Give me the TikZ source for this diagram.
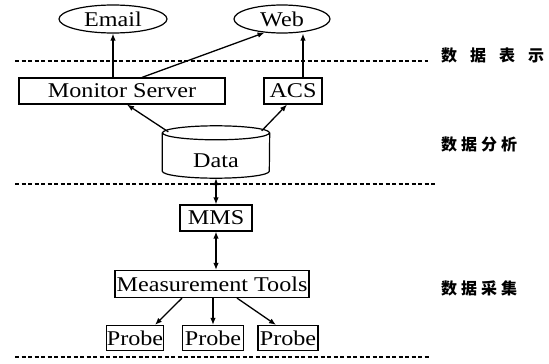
\documentclass[tikz,border=0pt]{standalone}
\usepackage{fontspec}
\setmainfont{Liberation Serif}[FakeStretch=1.15]
\newfontfamily\cjk{Noto Sans CJK SC}
\usetikzlibrary{shapes.geometric,arrows.meta,calc}
\begin{document}
\begin{tikzpicture}[x=1pt,y=-1pt,
  txt/.style={font=\fontsize{21}{23}\selectfont},
  box/.style={draw, line width=1.2pt, minimum height=26pt, inner sep=0pt, txt},
  oval/.style={ellipse, draw, line width=1.2pt, inner sep=0pt, txt},
  arr/.style={-{Latex[length=7pt,width=5.5pt]}, line width=1.3pt},
  darr/.style={{Latex[length=7pt,width=5.5pt]}-{Latex[length=7pt,width=5.5pt]}, line width=1.3pt},
  sep/.style={dash pattern=on 4pt off 2.5pt, line width=1.2pt},
  cyl/.style={line width=1.2pt},
  lab/.style={font=\cjk\bfseries\fontsize{16}{16}\selectfont, anchor=west, inner sep=0pt}]
\useasboundingbox (0,0) rectangle (549,364);
% nodes
\node[oval, minimum width=108pt, minimum height=28pt] (email) at (113,19) {Email};
\node[oval, minimum width=96pt, minimum height=28pt] (web) at (282,19) {Web};
\node[box, minimum width=206pt] (ms) at (122,91) {Monitor Server};
\node[box, minimum width=58pt] (acs) at (293,91) {ACS};
\node[minimum width=107pt, minimum height=52pt, inner sep=0pt] (data) at (216,152) {};
\node[txt] (datatxt) at (216,161) {Data};
\node[box, minimum width=72pt] (mms) at (216,218) {MMS};
\node[box, minimum width=194pt, minimum height=27pt] (mt) at (212,284) {Measurement Tools};
\node[box, minimum width=57pt, minimum height=25pt] (p1) at (135,338) {Probe};
\node[box, minimum width=61pt, minimum height=25pt] (p2) at (213,338) {Probe};
\node[box, minimum width=60pt, minimum height=25pt] (p3) at (288,338) {Probe};
% cylinder outline of the Data node
\draw[cyl] ($(data.north)+(0,7)$) ellipse [x radius=53.5pt, y radius=7pt];
\draw[cyl] ($(data.north west)+(0,7)$) -- ($(data.south west)+(0,-7)$)
  arc[start angle=180, end angle=360, x radius=53.5pt, y radius=7pt]
  -- ($(data.north east)+(0,7)$);
% labels
\node[lab] (l1) at (441,55) {数\hspace{13pt}据\hspace{13pt}表\hspace{13pt}示};
\node[lab] (l2) at (441,144) {数\hspace{4pt}据\hspace{4pt}分\hspace{4pt}析};
\node[lab] (l3) at (441,288) {数\hspace{4pt}据\hspace{4pt}采\hspace{4pt}集};
% separators
\draw[sep] (15,61) -- (428,61);
\draw[sep] (15,184) -- (437,184);
\draw[sep] (15,357) -- (430,357);
% connectors
\draw[arr] (ms.north -| email.south) -- (email.south);
\draw[arr] ($(ms.north)+(20,0)$) -- (web.218);
\draw[arr] (acs.north -| 303,0) -- (web.south -| 303,0);
\draw[arr] ($(data.north west)+(6,6)$) -- ($(ms.south)+(5,0)$);
\draw[arr] ($(data.north east)+(-8,5)$) -- ($(acs.south)+(-6,0)$);
\draw[darr] (data.south -| mms.north) -- (mms.north);
\draw[darr] (mms.south) -- (mms.south |- mt.north);
\draw[arr] ($(mt.south)+(-30,0)$) -- ($(p1.north)+(20,0)$);
\draw[arr] (mt.south -| p2.north) -- (p2.north);
\draw[arr] ($(mt.south)+(25,0)$) -- ($(p3.north)+(-12,0)$);
\end{tikzpicture}
\end{document}
